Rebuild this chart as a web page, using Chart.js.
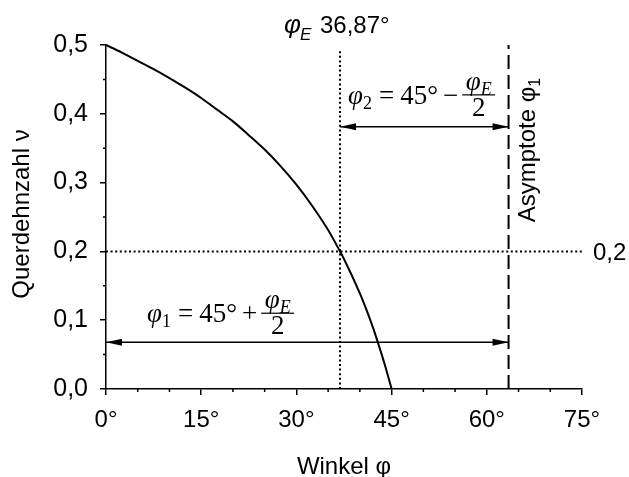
<!DOCTYPE html>
<html>
<head>
<meta charset="utf-8">
<script src="https://cdn.jsdelivr.net/npm/chart.js@4.4.1/dist/chart.umd.min.js"></script>
<style>
    html, body { margin: 0; padding: 0; background: #fff; }
</style>
</head>
<body>
<canvas id="graficoQuerdehnzahl" width="629" height="477"></canvas>
<script>
// Winkel φ in Grad / Querdehnzahl ν
const winkel = [0, 2.5, 5, 7.5, 10, 12.5, 15, 17.5, 20, 22.5, 25, 27.5, 30, 32.5, 35, 36.87, 37.5, 40, 41, 42, 43, 44, 45];
const querdehnzahl = [0.500, 0.489, 0.477, 0.465, 0.452, 0.438, 0.423, 0.406, 0.389, 0.369, 0.348, 0.324, 0.297, 0.266, 0.231, 0.200, 0.189, 0.139, 0.116, 0.091, 0.063, 0.033, 0.000];

const xTicks = [0, 15, 30, 45, 60, 75];
const xMinor = [5, 10, 20, 25, 35, 40, 50, 55, 65, 70];
const yTicks = [0, 0.1, 0.2, 0.3, 0.4, 0.5];
const yMinor = [0.05, 0.15, 0.25, 0.35, 0.45];

const phiE = 36.87;
const phi1 = 63.43;
const nuE = 0.2;
const pfeilOben = 0.381;
const pfeilUnten = 0.068;

const sans = '"Liberation Sans", Arial, sans-serif';
const serif = '"Liberation Serif", "Times New Roman", serif';

function bruch(ctx, x, yBar, index, op) {
    ctx.textAlign = 'left';
    ctx.textBaseline = 'alphabetic';
    const base = yBar + 9;
    ctx.font = 'italic 27px ' + serif;
    ctx.fillText('φ', x, base);
    x += ctx.measureText('φ').width;
    ctx.font = '18px ' + serif;
    ctx.fillText(index, x, base + 5);
    x += ctx.measureText(index).width + 7;
    ctx.font = '27px ' + serif;
    ctx.fillText('=', x, base);
    x += ctx.measureText('=').width + 6;
    ctx.fillText('45°', x, base);
    x += ctx.measureText('45°').width + 5;
    ctx.fillText(op, x, base);
    x += ctx.measureText(op).width + 4;
    // Bruch φE / 2
    ctx.font = 'italic 27px ' + serif;
    const w1 = ctx.measureText('φ').width;
    ctx.font = 'italic 18px ' + serif;
    const w2 = ctx.measureText('E').width;
    const breite = w1 + w2 + 7;
    const cx = x + breite / 2;
    ctx.fillRect(x, yBar - 0.6, breite, 1.2);
    ctx.font = 'italic 27px ' + serif;
    ctx.fillText('φ', cx - (w1 + w2) / 2, yBar - 5);
    ctx.font = 'italic 18px ' + serif;
    ctx.fillText('E', cx - (w1 + w2) / 2 + w1, yBar);
    ctx.font = '27px ' + serif;
    ctx.textAlign = 'center';
    ctx.fillText('2', cx, yBar + 21);
}

function pfeil(ctx, x, y, dir) {
    ctx.beginPath();
    ctx.moveTo(x, y);
    ctx.lineTo(x - dir * 16, y - 3.5);
    ctx.lineTo(x - dir * 16, y + 3.5);
    ctx.closePath();
    ctx.fill();
}

const beschriftung = {
    id: 'beschriftung',
    afterDraw(chart) {
        const ctx = chart.ctx;
        const xs = chart.scales.x, ys = chart.scales.y;
        const X = v => xs.getPixelForValue(v);
        const Y = v => ys.getPixelForValue(v);
        ctx.save();
        ctx.fillStyle = '#000';
        ctx.strokeStyle = '#000';

        // Nebenteilstriche
        ctx.lineWidth = 1.5;
        ctx.beginPath();
        xMinor.forEach(v => { ctx.moveTo(X(v), Y(0)); ctx.lineTo(X(v), Y(0) + 3); });
        yMinor.forEach(v => { ctx.moveTo(X(0), Y(v)); ctx.lineTo(X(0) - 3, Y(v)); });
        ctx.stroke();

        // Pfeilspitzen
        pfeil(ctx, X(phiE), Y(pfeilOben), -1);
        pfeil(ctx, X(phi1), Y(pfeilOben), 1);
        pfeil(ctx, X(0), Y(pfeilUnten), -1);
        pfeil(ctx, X(phi1), Y(pfeilUnten), 1);

        // Formeln
        bruch(ctx, X(phiE) + 8, Y(pfeilOben) - 32, '2', '−');
        bruch(ctx, X(0) + 41, Y(pfeilUnten) - 29, '1', '+');

        // φE 36,87°
        ctx.textAlign = 'left';
        ctx.textBaseline = 'alphabetic';
        ctx.font = 'italic 26px ' + sans;
        ctx.fillText('φ', X(phiE) - 56, 33);
        ctx.font = 'italic 17px ' + sans;
        ctx.fillText('E', X(phiE) - 40, 40);
        ctx.font = '24px ' + sans;
        ctx.fillText('36,87°', X(phiE) - 20, 33);

        // 0,2 rechts
        ctx.fillText('0,2', X(75) + 11, Y(nuE) + 9);

        // Asymptote φ1
        ctx.save();
        ctx.translate(X(phi1) + 26, 150);
        ctx.rotate(-Math.PI / 2);
        const t = 'Asymptote φ';
        ctx.font = '16px ' + sans;
        const ws = ctx.measureText('1').width;
        ctx.font = '24px ' + sans;
        const wt = ctx.measureText(t).width;
        const start = -(wt + ws) / 2;
        ctx.fillText(t, start, 0);
        ctx.font = '16px ' + sans;
        ctx.fillText('1', start + wt, 5);
        ctx.restore();

        // Achsentitel
        ctx.font = '24px ' + sans;
        ctx.textAlign = 'center';
        ctx.fillText('Winkel φ', (chart.chartArea.left + chart.chartArea.right) / 2, 474);
        ctx.save();
        ctx.translate(29, (chart.chartArea.top + chart.chartArea.bottom) / 2 - 3);
        ctx.rotate(-Math.PI / 2);
        ctx.fillText('Querdehnzahl ν', 0, 0);
        ctx.restore();

        ctx.restore();
    }
};

const linie = (daten, dash, breite) => ({
    data: daten,
    borderColor: '#000',
    borderWidth: breite,
    borderDash: dash,
    pointRadius: 0,
    fill: false,
    clip: false
});

const grafico = new Chart(document.getElementById('graficoQuerdehnzahl'), {
    type: 'line',
    data: {
        datasets: [
            {
                data: winkel.map((w, i) => ({ x: w, y: querdehnzahl[i] })),
                borderColor: '#000',
                borderWidth: 2,
                pointRadius: 0,
                cubicInterpolationMode: 'monotone',
                fill: false,
                clip: false
            },
            linie([{ x: phiE, y: 0 }, { x: phiE, y: 0.493 }], [2, 2.6], 2),
            linie([{ x: 0, y: nuE }, { x: 75, y: nuE }], [2, 2.6], 2),
            linie([{ x: phi1, y: 0 }, { x: phi1, y: 0.5 }], [14, 6], 2),
            linie([{ x: phiE, y: pfeilOben }, { x: phi1, y: pfeilOben }], [], 1.5),
            linie([{ x: 0, y: pfeilUnten }, { x: phi1, y: pfeilUnten }], [], 1.5)
        ]
    },
    options: {
        responsive: false,
        animation: false,
        devicePixelRatio: 1,
        layout: { padding: { left: 0, right: 47, top: 45, bottom: 0 } },
        plugins: { legend: { display: false }, tooltip: { enabled: false } },
        scales: {
            x: {
                type: 'linear',
                min: 0, max: 75,
                afterBuildTicks: s => { s.ticks = xTicks.map(v => ({ value: v })); },
                afterFit: s => { s.height = 88; },
                ticks: {
                    autoSkip: false, maxRotation: 0,
                    color: '#000', padding: 11,
                    font: { family: sans, size: 24 },
                    callback: v => v + '°'
                },
                grid: { drawOnChartArea: false, tickLength: 6, color: '#000', lineWidth: 1.5 },
                border: { color: '#000', width: 1.5 }
            },
            y: {
                type: 'linear',
                min: 0, max: 0.5,
                afterBuildTicks: s => { s.ticks = yTicks.map(v => ({ value: v })); },
                afterFit: s => { s.width = 106; },
                ticks: {
                    autoSkip: false,
                    color: '#000', padding: 12,
                    font: { family: sans, size: 25 },
                    callback: v => v.toFixed(1).replace('.', ',')
                },
                grid: { drawOnChartArea: false, tickLength: 6, color: '#000', lineWidth: 1.5 },
                border: { color: '#000', width: 1.5 }
            }
        }
    },
    plugins: [beschriftung]
});
</script>
</body>
</html>
